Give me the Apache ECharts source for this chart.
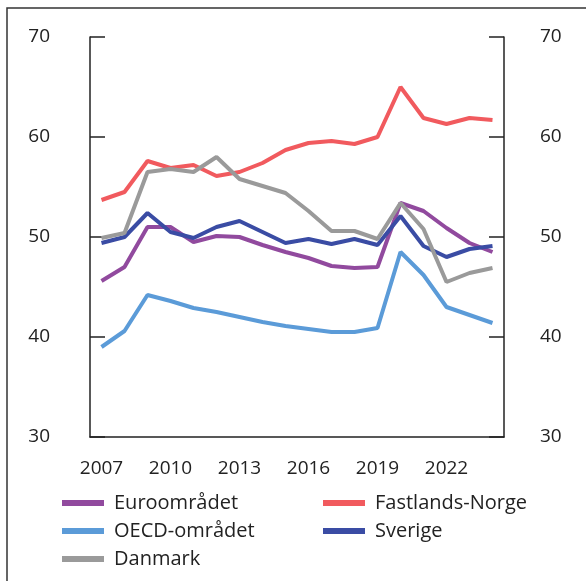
<!DOCTYPE html>
<html>
<head>
<meta charset="utf-8">
<script src="https://cdn.jsdelivr.net/npm/echarts@6/dist/echarts.min.js"></script>
<style>
  html, body { margin: 0; padding: 0; background: #fff; }
  #chart { width: 586px; height: 581px; }
</style>
</head>
<body>
<div id="chart"></div>
<script>
// years on the x axis
var years = ['2007', '2008', '2009', '2010', '2011', '2012', '2013', '2014', '2015',
    '2016', '2017', '2018', '2019', '2020', '2021', '2022', '2023', '2024'];
var yTicks = [30, 40, 50, 60, 70];

var euro   = [45.6, 47.0, 51.0, 51.0, 49.5, 50.1, 50.0, 49.2, 48.5, 47.9, 47.1, 46.9, 47.0, 53.4, 52.6, 50.9, 49.4, 48.5];
var norge  = [53.7, 54.5, 57.6, 56.9, 57.2, 56.1, 56.5, 57.4, 58.7, 59.4, 59.6, 59.3, 60.0, 65.0, 61.9, 61.3, 61.9, 61.7];
var oecd   = [39.0, 40.6, 44.2, 43.6, 42.9, 42.5, 42.0, 41.5, 41.1, 40.8, 40.5, 40.5, 40.9, 48.5, 46.2, 43.0, 42.2, 41.4];
var sverige = [49.4, 50.0, 52.4, 50.5, 49.9, 51.0, 51.6, 50.5, 49.4, 49.8, 49.3, 49.8, 49.2, 52.1, 49.1, 48.0, 48.8, 49.1];
var danmark = [49.9, 50.4, 56.5, 56.8, 56.5, 58.0, 55.8, 55.1, 54.4, 52.6, 50.6, 50.6, 49.8, 53.4, 50.8, 45.5, 46.4, 46.9];

var myChart = echarts.init(document.getElementById('chart'));

var font = '"Open Sans", sans-serif';
var txt = '#222';

function mkSeries(name, data, color) {
    return {
        name: name,
        type: 'line',
        data: data,
        symbol: 'none',
        lineStyle: { width: 4, color: color },
        itemStyle: { color: color }
    };
}

// y axis shared settings (left + right)
function yAxisCfg(pos, margin) {
    return {
        type: 'value',
        position: pos,
        min: yTicks[0],
        max: yTicks[yTicks.length - 1],
        interval: 10,
        axisLine: { show: true, lineStyle: { color: '#222', width: 1.5 } },
        axisTick: { show: true, inside: true, length: 15, lineStyle: { color: '#222', width: 1.5 } },
        axisLabel: { margin: margin, color: txt, fontFamily: font, fontSize: 19, padding: [10, 0, 0, 0] },
        splitLine: { show: false }
    };
}

var legendCommon = {
    orient: 'vertical',
    icon: 'rect',
    itemWidth: 42,
    itemHeight: 6,
    itemGap: 8,
    textStyle: { color: txt, fontFamily: font, fontSize: 20, padding: [0, 0, 0, 5] }
};

var option = {
    animation: false,
    graphic: [{
        type: 'polyline',
        shape: { points: [[7, 600], [7, 8], [600, 8]] },
        style: { stroke: '#333', lineWidth: 1.5, fill: null }
    }],
    grid: { left: 90, right: 82, top: 37, bottom: 144 },
    legend: [
        Object.assign({ left: 57, top: 488, data: ['Euroområdet', 'OECD-området', 'Danmark'] }, legendCommon),
        Object.assign({ left: 318, top: 488, data: ['Fastlands-Norge', 'Sverige'] }, legendCommon)
    ],
    xAxis: {
        type: 'category',
        data: years,
        boundaryGap: true,
        axisLine: { show: true, lineStyle: { color: '#222', width: 1.5 } },
        axisTick: { show: false },
        axisLabel: { interval: 2, margin: 22, color: txt, fontFamily: font, fontSize: 19 }
    },
    yAxis: [yAxisCfg('left', 40), yAxisCfg('right', 36)],
    series: [
        mkSeries('Euroområdet', euro, '#914A9E'),
        mkSeries('Fastlands-Norge', norge, '#F15A5E'),
        mkSeries('OECD-området', oecd, '#5B9BD8'),
        mkSeries('Sverige', sverige, '#3A4CA4'),
        mkSeries('Danmark', danmark, '#9A9A9A')
    ]
};

myChart.setOption(option);
</script>
</body>
</html>
